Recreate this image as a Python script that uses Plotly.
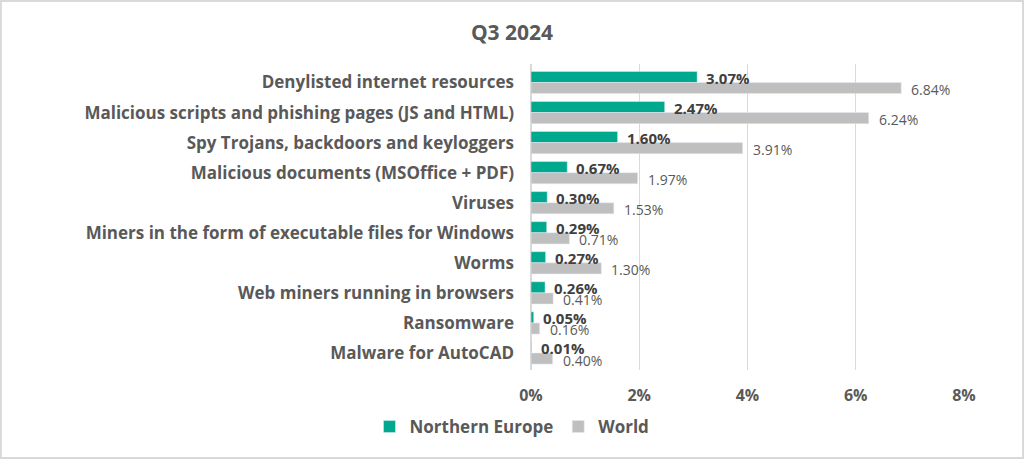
import plotly.graph_objects as go

categories = [
    "Denylisted internet resources",
    "Malicious scripts and phishing pages (JS and HTML)",
    "Spy Trojans, backdoors and keyloggers",
    "Malicious documents (MSOffice + PDF)",
    "Viruses",
    "Miners in the form of executable files for Windows",
    "Worms",
    "Web miners running in browsers",
    "Ransomware",
    "Malware for AutoCAD",
]
northern_europe = [3.07, 2.47, 1.60, 0.67, 0.30, 0.29, 0.27, 0.26, 0.05, 0.01]
world = [6.84, 6.24, 3.91, 1.97, 1.53, 0.71, 1.30, 0.41, 0.16, 0.40]
x_ticks = [0, 2, 4, 6, 8]

FONT = "Open Sans, sans-serif"

fig = go.Figure()

fig.add_trace(go.Bar(
    y=categories, x=northern_europe, orientation="h", name="Northern Europe",
    marker=dict(color="#00A88E"),
))
fig.add_trace(go.Bar(
    y=categories, x=world, orientation="h", name="World",
    marker=dict(color="#BFBFBF"),
))

# value labels, placed next to the bar ends
for cat, v in zip(categories, northern_europe):
    fig.add_annotation(x=v, y=cat, text=f"<b>{v:.2f}%</b>", showarrow=False,
                       xanchor="left", xshift=7, yshift=5,
                       font=dict(family=FONT, size=15, color="#404040"))
for cat, v in zip(categories, world):
    fig.add_annotation(x=v, y=cat, text=f"{v:.2f}%", showarrow=False,
                       xanchor="left", xshift=8, yshift=-7,
                       font=dict(family=FONT, size=14, color="#595959"))

fig.update_layout(
    width=1024, height=459,
    paper_bgcolor="white", plot_bgcolor="white",
    font=dict(family=FONT, color="#595959"),
    title=dict(text="<b>Q3 2024</b>", x=0.5, xref="container", xanchor="center",
               y=1 - 33 / 459, yanchor="middle",
               font=dict(size=21, color="#595959", family=FONT)),
    barmode="group", bargap=0.26, bargroupgap=0,
    margin=dict(l=531, r=60, t=64, b=89, autoexpand=False),
    showlegend=True,
    legend=dict(orientation="h", xref="container", x=0.5, xanchor="center",
                yref="container", y=1 - 427 / 459, yanchor="middle",
                font=dict(size=17, color="#595959", family=FONT, weight="bold")),
    shapes=[dict(type="rect", xref="paper", yref="paper",
                 x0=-531 / 433 + 0.002, x1=1 + 59 / 433,
                 y0=-88 / 306, y1=1 + 63 / 306,
                 line=dict(color="#D9D9D9", width=2))],
)

fig.update_xaxes(
    range=[0, 8], tickvals=x_ticks, ticktext=[f"{t}%" for t in x_ticks],
    showgrid=True, gridcolor="#D9D9D9", gridwidth=1,
    zeroline=True, zerolinecolor="#D9D9D9",
    tickfont=dict(size=16, color="#595959", family=FONT, weight="bold"),
    ticks="", ticklabelstandoff=14,
)
fig.update_yaxes(
    autorange="reversed", showgrid=False,
    tickfont=dict(size=17, color="#595959", family=FONT, weight="bold"),
    ticks="", ticklabelstandoff=16,
)

fig.write_html("out.html", config={"displayModeBar": False},
               post_script="document.body.style.margin='0';")
